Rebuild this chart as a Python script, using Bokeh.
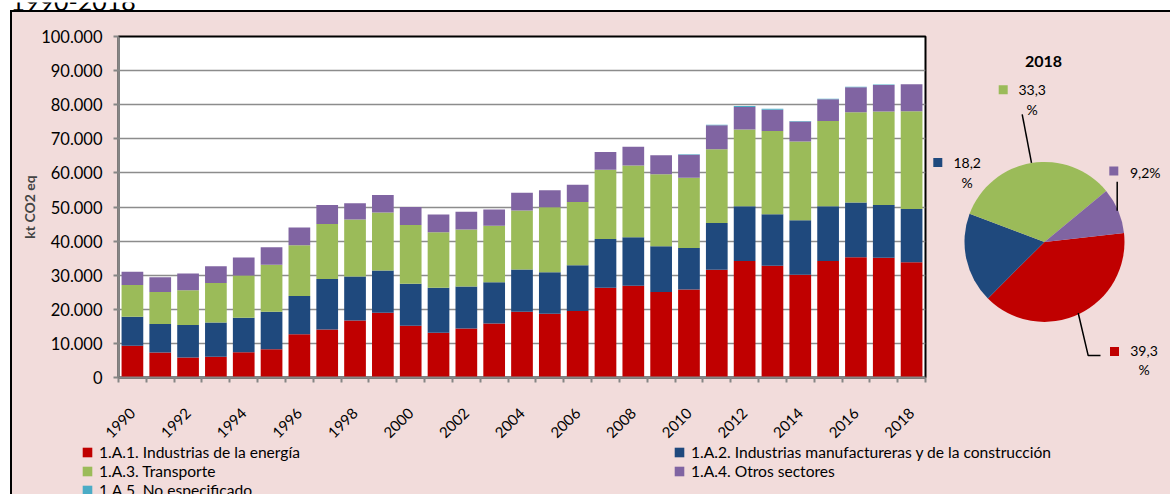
import math
from bokeh.plotting import figure
from bokeh.layouts import column, row
from bokeh.models import ColumnDataSource, Range1d, FixedTicker, Legend, LegendItem
from bokeh.core.properties import value
from bokeh.embed import file_html
from bokeh.resources import INLINE

# ---------------- data ----------------
years = list(range(1990, 2019))
energia = [9300, 7300, 5900, 6100, 7400, 8300, 12700, 14100, 16700, 19000,
           15200, 13100, 14400, 15800, 19300, 18700, 19500, 26300, 26900, 25100,
           25800, 31600, 34200, 32800, 30100, 34200, 35300, 35100, 33800]
manufactureras = [8500, 8400, 9500, 10000, 10100, 11000, 11200, 14800, 12900, 12400,
                  12300, 13200, 12300, 12100, 12400, 12200, 13400, 14300, 14200, 13400,
                  12200, 13700, 16000, 15100, 16000, 16000, 16000, 15500, 15650]
transporte = [9300, 9400, 10200, 11600, 12400, 13800, 14900, 16100, 16700, 17000,
              17200, 16300, 16700, 16600, 17300, 19000, 18600, 20300, 21100, 21100,
              20600, 21600, 22500, 24400, 23100, 25000, 26500, 27400, 28650]
otros = [3900, 4300, 4900, 4900, 5300, 5100, 5200, 5600, 4800, 5100,
         5300, 5200, 5200, 4800, 5200, 5000, 5000, 5200, 5500, 5600,
         6700, 7100, 6600, 6200, 5900, 6400, 7300, 7800, 7920]
no_especificado = [0, 0, 0, 0, 0, 0, 0, 0, 0, 0,
                   0, 0, 0, 0, 0, 0, 0, 0, 0, 0,
                   150, 150, 350, 300, 150, 150, 150, 100, 0]

series_names = ["1.A.1. Industrias de la energía",
                "1.A.2. Industrias manufactureras y de la construcción",
                "1.A.3. Transporte",
                "1.A.4. Otros sectores",
                "1.A.5. No especificado"]
colors = ["#C00000", "#1F497D", "#9BBB59", "#8064A2", "#4BACC6"]

y_ticks = [0, 10000, 20000, 30000, 40000, 50000, 60000, 70000, 80000, 90000, 100000]
y_tick_labels = ["0", "10.000", "20.000", "30.000", "40.000", "50.000",
                 "60.000", "70.000", "80.000", "90.000", "100.000"]
x_label_years = years[::2]
y_axis_title = "kt CO2 eq"
title_fragment = "1990-2018"
pie_year = 2018

FONT = "Lato"
PINK = "#F2DCDB"
GRAY = "#868686"

# ---------------- top strip (cut-off title) ----------------
tf = figure(width=1170, height=10, x_range=Range1d(0, 1170), y_range=Range1d(0, 10),
            x_axis_type=None, y_axis_type=None, output_backend="svg", toolbar_location=None,
            min_border=0)
tf.background_fill_color = "white"
tf.border_fill_color = "white"
tf.outline_line_color = None
tf.grid.visible = False
tf.text(x=[10], y=[10.5], text=[title_fragment], text_font=value(FONT), text_font_size="25px",
        text_align="left", text_baseline="alphabetic", text_color="black")

# ---------------- bar chart ----------------
keys = ["s1", "s2", "s3", "s4", "s5"]
src = ColumnDataSource(dict(year=years, s1=energia, s2=manufactureras, s3=transporte,
                            s4=otros, s5=no_especificado))

p = figure(width=918, height=433, x_range=Range1d(1989.5, 2018.5), y_range=Range1d(0, 100000),
           output_backend="svg", toolbar_location=None,
           min_border_left=106, min_border_right=5, min_border_top=24, min_border_bottom=67)
p.background_fill_color = "white"
p.border_fill_color = PINK
p.outline_line_color = "black"
p.outline_line_width = 2

bar_renderers = p.vbar_stack(keys, x="year", width=0.78, fill_color=colors, line_color=None, source=src)

p.xgrid.visible = False
p.ygrid.grid_line_color = "#8C8C8C"
p.ygrid.grid_line_width = 1.5

p.yaxis.ticker = FixedTicker(ticks=y_ticks)
p.yaxis.major_label_overrides = {t: l for t, l in zip(y_ticks, y_tick_labels)}
p.yaxis.axis_label = y_axis_title
p.yaxis.axis_label_text_font = FONT
p.yaxis.axis_label_text_font_style = "bold"
p.yaxis.axis_label_text_font_size = "14px"
p.yaxis.axis_label_standoff = 0
p.yaxis.major_label_text_font = FONT
p.yaxis.major_label_text_font_size = "16.5px"
p.yaxis.major_label_text_color = "black"
p.yaxis.major_label_standoff = 11
p.yaxis.axis_line_color = GRAY
p.yaxis.axis_line_width = 2
p.yaxis.major_tick_line_color = GRAY
p.yaxis.major_tick_line_width = 2
p.yaxis.major_tick_out = 5
p.yaxis.major_tick_in = 0
p.yaxis.minor_tick_line_color = None

p.xaxis.ticker = FixedTicker(ticks=x_label_years, minor_ticks=[y - 0.5 for y in years] + [years[-1] + 0.5])
p.xaxis.major_label_overrides = {y: str(y) for y in x_label_years}
p.xaxis.major_label_orientation = math.pi / 4
p.xaxis.major_label_text_font = FONT
p.xaxis.major_label_text_font_size = "15px"
p.xaxis.major_label_text_color = "black"
p.xaxis.major_label_standoff = 27
p.xaxis.axis_line_color = GRAY
p.xaxis.axis_line_width = 2
p.xaxis.major_tick_line_color = None
p.xaxis.minor_tick_line_color = GRAY
p.xaxis.minor_tick_line_width = 2
p.xaxis.minor_tick_out = 5
p.xaxis.minor_tick_in = 0

# ---------------- pie chart ----------------
# the frame of this figure is aligned with the bar chart's frame by the row layout
pp = figure(width=240, height=433, x_range=Range1d(0, 240), y_range=Range1d(60, 402),
            x_axis_type=None, y_axis_type=None, output_backend="svg", toolbar_location=None,
            min_border=0)
pp.background_fill_color = PINK
pp.border_fill_color = PINK
pp.outline_line_color = None
pp.grid.visible = False

idx = years.index(pie_year)
all_series = [energia, manufactureras, transporte, otros, no_especificado]
pie_vals = [s[idx] for s in all_series]
total = sum(pie_vals)
start0 = math.radians(6.4)
starts, ends, wcols, cum = [], [], [], 0.0
for v, c in zip(pie_vals, colors):
    if v <= 0:
        continue
    starts.append(start0 - 2 * math.pi * cum / total)
    cum += v
    ends.append(start0 - 2 * math.pi * cum / total)
    wcols.append(c)
pie_src = ColumnDataSource(dict(start=starts, end=ends, color=wcols))
pp.wedge(x=114, y=196, radius=80, start_angle="start", end_angle="end", direction="clock",
         fill_color="color", line_color=None, source=pie_src)

pp.text(x=[113], y=[377], text=[str(pie_year)], text_font=value(FONT), text_font_size="16px",
        text_font_style="bold", text_align="center", text_baseline="middle", text_color="black")

pcts = [f"{100 * v / total:.1f}".replace(".", ",") for v in pie_vals]
# label layout per slice (red, blue, green, purple): square pos, text pos, wrapped?
lab_sq = [(184, 86), (7.3, 275.7), (72.7, 348.7), (183.3, 267)]
lab_tx = [(213.5, 87), (36.7, 274.7), (101.7, 348), (214.7, 265.3)]
wrapped = [True, True, True, False]
sx, sy, sc, tx, ty, tt = [], [], [], [], [], []
for i in range(4):
    sx.append(lab_sq[i][0]); sy.append(lab_sq[i][1]); sc.append(colors[i])
    if wrapped[i]:
        tx += [lab_tx[i][0], lab_tx[i][0]]
        ty += [lab_tx[i][1], lab_tx[i][1] - 19]
        tt += [pcts[i], "%"]
    else:
        tx.append(lab_tx[i][0]); ty.append(lab_tx[i][1]); tt.append(pcts[i] + "%")
pp.rect(x=sx, y=sy, width=9, height=9, fill_color=sc, line_color=None)
pp.text(x=tx, y=ty, text=tt, text_font=value(FONT), text_font_size="14px", text_align="center",
        text_baseline="middle", text_color="black")
pp.multi_line(xs=[[91.7, 101], [186.7, 186.7], [147.7, 157.7, 170]],
              ys=[[324, 275.3], [256.3, 227.3], [124.7, 82, 82]],
              line_color="black", line_width=1.5)

# ---------------- legend ----------------
lf = figure(width=1158, height=56, x_range=Range1d(0, 1), y_range=Range1d(0, 1),
            x_axis_type=None, y_axis_type=None, output_backend="svg", toolbar_location=None,
            min_border=0, margin=(-7, 0, 0, 0))
lf.background_fill_color = PINK
lf.border_fill_color = PINK
lf.outline_line_color = None
lf.grid.visible = False
dummies = [lf.vbar(x=[10], top=[10], bottom=[9], width=1, fill_color=c, line_color=None) for c in colors]


def make_legend(ids, loc):
    lg = Legend(items=[LegendItem(label=series_names[i], renderers=[dummies[i]]) for i in ids],
                location=loc, orientation="vertical", padding=0, margin=0, spacing=0,
                label_height=19, glyph_height=12, glyph_width=12, label_standoff=6,
                label_text_font=FONT, label_text_font_size="15.6px", label_text_color="black",
                border_line_color=None, background_fill_alpha=0)
    return lg


lf.add_layout(make_legend([0, 2, 4], (69, -5.5)))
lf.add_layout(make_legend([1, 3], (661, 13.5)))

inner = column(row(p, pp), lf, margin=(0, 0, 0, 10),
               styles={"border-left": "2px solid black", "border-top": "2px solid black",
                       "background-color": PINK})
layout = column(tf, inner)

open("out.html", "w").write(file_html(layout, INLINE))
